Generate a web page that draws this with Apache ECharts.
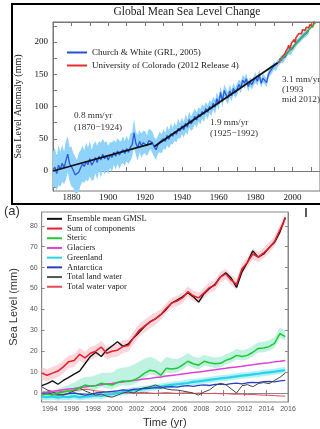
<!DOCTYPE html>
<html><head><meta charset="utf-8">
<script src="https://cdn.jsdelivr.net/npm/echarts@6/dist/echarts.min.js"></script>
<style>html,body{margin:0;padding:0;background:#fff}#c{width:320px;height:429px}</style>
</head><body><div id="c"></div>
<script>
// ---------- Top chart: Global Mean Sea Level Change ----------
const cwStartYear = 1870;
const cwValues = [
  2, 6, -4, 9, 3, 12, 5, 16, 26, 11,
  7, 1, -6, -9, -2, 5, 11, 7, 15, 10,
  19, 9, 14, 21, 13, 23, 17, 26, 19, 24,
  17, 25, 21, 29, 23, 31, 25, 28, 33, 27,
  35, 29, 37, 41, 59, 43, 36, 46, 39, 44,
  45, 39, 47, 49, 44, 37, 33, 41, 45, 42,
  50, 46, 55, 49, 58, 54, 61, 57, 66, 62,
  70, 64, 74, 68, 80, 73, 78, 85, 79, 88,
  84, 92, 88, 97, 91, 100, 96, 105, 99, 112,
  104, 122, 108, 125, 118, 113, 124, 117, 128, 121,
  127, 134, 129, 141, 136, 143, 131, 138, 134, 140,
  145, 139, 150, 136, 144, 141, 137, 150, 155, 158,
  163, 161, 167, 170, 174, 172, 177, 182, 186, 184,
  190, 193, 198, 201, 204, 207, 210, 212, 215, 218
];
const cwErr = [
  28, 30, 26, 31, 27, 29, 25, 30, 28, 26,
  31, 27, 29, 26, 30, 27, 28, 25, 29, 26,
  27, 24, 28, 25, 26, 23, 27, 24, 25, 22,
  22, 20, 23, 19, 21, 20, 22, 18, 21, 19,
  20, 18, 21, 19, 22, 18, 20, 17, 19, 18,
  17, 16, 18, 15, 17, 15, 16, 14, 16, 15,
  15, 13, 15, 14, 16, 13, 14, 13, 15, 12,
  13, 12, 14, 12, 13, 11, 13, 12, 12, 11,
  12, 11, 12, 10, 11, 10, 11, 10, 11, 10,
  10, 9, 10, 9, 10, 9, 10, 9, 9, 8,
  9, 8, 9, 8, 9, 8, 8, 7, 8, 7,
  8, 7, 8, 7, 7, 6, 7, 6, 7, 6,
  6, 6, 6, 5, 6, 5, 5, 5, 5, 5,
  5, 5, 5, 5, 5, 5, 5, 5, 5, 5
];
const ucYears = [1993.0,1993.5,1994.0,1994.5,1995.0,1995.5,1996.0,1996.5,1997.0,1997.5,
  1998.0,1998.5,1999.0,1999.5,2000.0,2000.5,2001.0,2001.5,2002.0,2002.5,
  2003.0,2003.5,2004.0,2004.5,2005.0,2005.5,2006.0,2006.5,2007.0,2007.5,
  2008.0,2008.5,2009.0,2009.5,2010.0,2010.5,2011.0,2011.5,2012.0,2012.5];
const ucValues = [168, 175, 171, 177, 179, 174, 182, 186, 183, 191,
  195, 189, 193, 198, 196, 201, 204, 199, 207, 210,
  206, 213, 211, 216, 213, 219, 216, 221, 218, 223,
  220, 225, 222, 227, 230, 225, 223, 229, 232, 230];
const trend1 = [[1870, 0], [1924, 43]];
const trend2 = [[1925, 38], [1992, 168]];
const trend3 = [[1993, 170], [2012.5, 230]];
const topXLabels = [1880, 1900, 1920, 1940, 1960, 1980, 2000];
const topXTicks = [1870,1880,1890,1900,1910,1920,1930,1940,1950,1960,1970,1980,1990,2000,2010];
const topYLabels = [0, 50, 100, 150, 200];
const topYTicks = [-25, 0, 25, 50, 75, 100, 125, 150, 175, 200, 225];

// ---------- Bottom chart (a) ----------
const bYears = [1993.25,1993.75,1994.25,1994.75,1995.25,1995.75,1996.25,1996.75,1997.25,1997.75,
  1998.25,1998.75,1999.25,1999.75,2000.25,2000.75,2001.25,2001.75,2002.25,2002.75,
  2003.25,2003.75,2004.25,2004.75,2005.25,2005.75,2006.25,2006.75,2007.25,2007.75,
  2008.25,2008.75,2009.25,2009.75,2010.25,2010.75,2011.25,2011.75,2012.25,2012.75,
  2013.25,2013.75,2014.25,2014.75,2015.25,2015.75];
const gmsl = [3.5,4.5,5.8,4.2,6,7.5,9,10.5,14,17.5,
  19.5,17.5,20.5,22.5,24.5,22.3,23.5,26.5,29,31.8,
  34,35.5,37.5,40,43,44.5,46,48,46,43.5,
  47.5,50,52,55.5,57.5,55,50.5,58,62.5,68,
  65,66.5,69.5,72,77,84];
const sumComp = [9.5,8.5,9.5,10.5,12.5,15,15.6,18.5,16.8,19,
  20,22,19,20,20.5,22.2,22.7,26.5,30,32,
  34,35.5,37.5,40.5,43,44,45.5,48.5,46.5,45.5,
  48,50.5,51.5,55.5,57,54,52,59.5,62.5,66.5,
  65,67,69.5,72.5,78,83.5];
const sumErr = [3,3,3,3,3,3,3,3,3,3,3,3,3,3,3,3,3,3,3,3,3,3,2.5,2.5,2.5,2.5,2.5,2.5,2.5,2.5,2.5,2.5,2.5,2.5,2.5,2.5,2.5,2.5,2.5,2.5,2.5,2.5,2.5,2.5,2.5,2.5];
const steric = [-1,-0.5,-1,0,0.5,1,1.5,2.5,3.8,3.3,
  3.5,4.7,4.2,3.8,5,5.7,5.5,6.2,7.5,9.5,
  10.9,10.4,8.5,11.8,11.5,11.8,13.3,15.2,14,13.3,
  15.2,14.5,14,14.2,15.6,16.5,18,17.5,18,19.5,
  21.3,21.5,22.2,23.7,28.4,27];
const stericLow = [2,2,2,2,2,2,2,2,2,2,2,2,2,2,2,2,2,2,2,2,2,2,2,2,2,2,2,2,2,2,2,2,2,2,2,2,2,2,2,2,2,2,2,2,2,2];
const stericHigh = [2,2,2,2,2.5,3,3.5,4,4,4.5,5,5,5.5,6,6.5,6.5,7,7.5,7.5,7,6.5,6,6,5.5,5,4.5,4,4,3.5,3.5,3,3,3,3,3,3,3,3,3,3,3,3,3,3,3,3];
const glaciers = [0.2,0.5,0.9,1.2,1.6,1.9,2.2,2.6,2.9,3.3,
  3.6,4.0,4.3,4.6,5.0,5.3,5.7,6.0,6.3,6.7,
  7.0,7.4,7.7,8.1,8.4,8.7,9.1,9.4,9.8,10.1,
  10.4,10.8,11.1,11.5,11.8,12.2,12.5,12.8,13.2,13.5,
  13.9,14.2,14.5,14.9,15.2,15.6];
const greenland = [-1.8,-2,-1.6,-2.2,-1.8,-2,-1.5,-2.1,-1.7,-1.5,
  -1.2,-1.4,-0.8,-0.5,0,0.4,0.8,1.3,1.6,2,
  2.4,2.8,3.1,3.5,3.9,4.2,4.5,4.8,5.3,5.6,
  5.9,6.3,6.6,7,7.2,7.6,8,8.3,8.6,8.9,
  9.2,9.6,9.9,10.2,10.6,10.9];
const greenlandErr = [1.5,1.5,1.5,1.5,1.5,1.5,1.5,1.5,1.5,1.5,1.5,1.5,1.5,1.5,1.5,1.5,1.5,1.5,1.5,1.5,1.5,1.5,1.5,1.5,1.5,1.5,1.5,1.5,1.5,1.5,1.5,1.5,1.5,1.5,1.5,1.5,1.5,1.5,1.5,1.5,1.5,1.5,1.5,1.5,1.5,1.5];
const antarctica = [-0.5,0,-0.5,-1,-0.8,-0.3,0,-0.5,-1,-0.6,
  0,0.3,0.5,0.8,1,1.5,1.2,1.8,2,2.3,
  2.2,2.6,2.4,2.9,3.1,2.8,3.3,3.5,3.2,3.7,
  3.9,3.6,4.1,4.3,4,4.5,4.7,4.4,4.9,5.1,
  5,5.4,5.6,5.3,5.8,6];
const landWater = [3,1.5,0.5,-0.5,-1,0,1,2.5,1,0,
  -1,-0.5,-1.5,-2,-1,0,0.5,0,1.5,2.5,
  3,3.8,3,2,1.5,1.4,1,0.5,0,-1,
  0.5,1.5,3.5,4.7,4,2,0,3.5,4,3,
  4.5,5,4.5,6,7.5,9.5];
const waterVapor = [0,0.2,0.3,0.5,0.8,1,1.2,1.5,1.8,1.5,
  1,0.8,0.5,0.5,0.3,0.2,0,0,0.2,0.3,
  0,-0.2,0,0.2,0,-0.2,0,0.1,-0.3,0,
  -0.2,-0.3,-0.1,-0.4,-0.3,-0.5,-0.6,-0.5,-0.8,-0.7,
  -0.9,-1,-1.1,-1.2,-1.4,-1.5];
const bXLabels = [1994,1996,1998,2000,2002,2004,2006,2008,2010,2012,2014,2016];
const bYLabels = [0,10,20,30,40,50,60,70,80];

// ---------- helpers ----------
const cwYears = cwValues.map((v, i) => cwStartYear + i);
const cwData = cwValues.map((v, i) => [cwYears[i], v]);
const cwLowV = cwValues.map((v, i) => v - cwErr[i]);
const cwHighV = cwValues.map((v, i) => v + cwErr[i]);
const ucData = ucValues.map((v, i) => [ucYears[i], v]);
const pair = arr => arr.map((v, i) => [bYears[i], v]);
const minus = (arr, e) => arr.map((v, i) => v - e[i]);
const plus = (arr, e) => arr.map((v, i) => v + e[i]);

function bandSeries(xs, lo, hi, color, xi, yi) {
  return {
    type: 'custom', xAxisIndex: xi, yAxisIndex: yi, silent: true, z: 1,
    data: [[xs[0], hi[0]]],
    renderItem: (params, api) => {
      const pts = [];
      for (let i = 0; i < xs.length; i++) pts.push(api.coord([xs[i], hi[i]]));
      for (let i = xs.length - 1; i >= 0; i--) pts.push(api.coord([xs[i], lo[i]]));
      return {type: 'polygon', shape: {points: pts}, style: {fill: color}};
    }
  };
}

const serif = 'Liberation Serif';
const sans = 'Liberation Sans';
const plain = v => String(v);

const chart = echarts.init(document.getElementById('c'), null, {renderer: 'canvas'});
const noSym = {symbol: 'none', showSymbol: false};

const option = {
  animation: false,
  backgroundColor: '#fff',
  grid: [
    {left: 53, top: 22, width: 271, height: 169, show: true, borderColor: '#777', borderWidth: 1},
    {left: 41, top: 212, width: 247, height: 192, show: true, borderColor: '#888', borderWidth: 1}
  ],
  xAxis: [
    {gridIndex: 0, type: 'value', min: 1870, max: 2015, splitLine: {show: false},
      axisLine: {lineStyle: {color: '#777'}},
      axisTick: {inside: true, length: 4, customValues: topXTicks, lineStyle: {color: '#777'}},
      axisLabel: {customValues: topXLabels, formatter: plain, fontFamily: serif, fontSize: 9, color: '#111', margin: 2}},
    {gridIndex: 0, type: 'value', min: 1870, max: 2015, position: 'top', splitLine: {show: false},
      axisLine: {lineStyle: {color: '#777'}},
      axisTick: {inside: true, length: 4, customValues: topXTicks, lineStyle: {color: '#777'}},
      axisLabel: {show: false}},
    {gridIndex: 1, type: 'value', min: 1993.25, max: 2016, splitLine: {show: false},
      name: 'Time (yr)', nameLocation: 'middle', nameGap: 15,
      nameTextStyle: {fontFamily: sans, fontSize: 11, color: '#333'},
      axisLine: {lineStyle: {color: '#888'}},
      axisTick: {inside: true, length: 3, customValues: bXLabels, lineStyle: {color: '#888'}},
      axisLabel: {customValues: bXLabels, formatter: plain, fontFamily: sans, fontSize: 7, color: '#555', margin: 4}},
    {gridIndex: 1, type: 'value', min: 1993.25, max: 2016, position: 'top', splitLine: {show: false},
      axisLine: {lineStyle: {color: '#888'}},
      axisTick: {inside: true, length: 3, customValues: bXLabels, lineStyle: {color: '#888'}},
      axisLabel: {show: false}}
  ],
  yAxis: [
    {gridIndex: 0, type: 'value', min: -31, max: 231, splitLine: {show: false},
      name: 'Sea Level Anomaly (mm)', nameLocation: 'middle', nameGap: 23,
      nameTextStyle: {fontFamily: serif, fontSize: 10, color: '#222'},
      axisLine: {show: true, lineStyle: {color: '#777'}},
      axisTick: {show: true, inside: true, length: 4, customValues: topYTicks, lineStyle: {color: '#777'}},
      axisLabel: {customValues: topYLabels, formatter: plain, fontFamily: serif, fontSize: 9, color: '#111', margin: 5}},
    {gridIndex: 1, type: 'value', min: -4.3, max: 86.6, splitLine: {show: false},
      name: 'Sea Level (mm)', nameLocation: 'middle', nameGap: 22,
      nameTextStyle: {fontFamily: sans, fontSize: 11, color: '#333'},
      axisLine: {show: true, lineStyle: {color: '#888'}},
      axisTick: {show: true, inside: true, length: 3, customValues: bYLabels, lineStyle: {color: '#888'}},
      axisLabel: {customValues: bYLabels, formatter: plain, fontFamily: sans, fontSize: 7, color: '#555', margin: 4}},
    {gridIndex: 1, type: 'value', min: -4.3, max: 86.6, position: 'right', splitLine: {show: false},
      axisLine: {show: true, lineStyle: {color: '#888'}},
      axisTick: {show: true, inside: true, length: 3, customValues: bYLabels, lineStyle: {color: '#888'}},
      axisLabel: {show: false}}
  ],
  legend: [
    {left: 67, top: 46, padding: 0, orient: 'vertical', itemWidth: 20, itemHeight: 2, itemGap: 0, icon: 'rect',
      textStyle: {fontFamily: serif, fontSize: 9, color: '#222', lineHeight: 13},
      data: ['Church & White (GRL, 2005)', 'University of Colorado (2012 Release 4)']},
    {left: 47, top: 214, padding: 0, orient: 'vertical', itemWidth: 15, itemHeight: 2, itemGap: 0, icon: 'rect',
      textStyle: {fontFamily: serif, fontSize: 8.5, color: '#222', lineHeight: 9.7},
      data: ['Ensemble mean GMSL', 'Sum of components', 'Steric', 'Glaciers', 'Greenland', 'Antarctica', 'Total land water', 'Total water vapor']}
  ],
  series: [
    // top chart
    bandSeries(cwYears, cwLowV, cwHighV, '#8fd2fa', 0, 0),
    {type: 'line', name: 'Church & White (GRL, 2005)', xAxisIndex: 0, yAxisIndex: 0, data: cwData, ...noSym, color: '#2350d8', lineStyle: {width: 1.3, color: '#2a5ae0'}},
    {type: 'line', name: 'University of Colorado (2012 Release 4)', xAxisIndex: 0, yAxisIndex: 0, data: ucData, ...noSym, color: '#e23030', lineStyle: {width: 1.6, color: '#e23030'}},
    {type: 'line', name: 't1', xAxisIndex: 0, yAxisIndex: 0, data: trend1, ...noSym, lineStyle: {width: 1.8, color: '#111'}},
    {type: 'line', name: 't2', xAxisIndex: 0, yAxisIndex: 0, data: trend2, ...noSym, lineStyle: {width: 1.8, color: '#111'}},
    {type: 'line', name: 't3', xAxisIndex: 0, yAxisIndex: 0, data: trend3, ...noSym, lineStyle: {width: 1.5, color: '#3cb043'}},
    // bottom chart bands
    bandSeries(bYears, minus(steric, stericLow), plus(steric, stericHigh), 'rgba(170,238,215,0.75)', 2, 1),
    bandSeries(bYears, minus(greenland, greenlandErr), plus(greenland, greenlandErr), 'rgba(160,236,246,0.8)', 2, 1),
    bandSeries(bYears, minus(sumComp, sumErr), plus(sumComp, sumErr), 'rgba(248,196,206,0.7)', 2, 1),
    // bottom chart lines
    {type: 'line', name: 'Total water vapor', xAxisIndex: 2, yAxisIndex: 1, data: pair(waterVapor), ...noSym, color: '#e8485a', lineStyle: {width: 1, color: '#e8485a'}},
    {type: 'line', name: 'Greenland', xAxisIndex: 2, yAxisIndex: 1, data: pair(greenland), ...noSym, color: '#26d4e6', lineStyle: {width: 2.2, color: '#26d4e6'}},
    {type: 'line', name: 'Antarctica', xAxisIndex: 2, yAxisIndex: 1, data: pair(antarctica), ...noSym, color: '#2b3fc4', lineStyle: {width: 1.3, color: '#2b3fc4'}},
    {type: 'line', name: 'Total land water', xAxisIndex: 2, yAxisIndex: 1, data: pair(landWater), ...noSym, color: '#555', lineStyle: {width: 1, color: '#444'}},
    {type: 'line', name: 'Glaciers', xAxisIndex: 2, yAxisIndex: 1, data: pair(glaciers), ...noSym, color: '#e040d8', lineStyle: {width: 1.5, color: '#e040d8'}},
    {type: 'line', name: 'Steric', xAxisIndex: 2, yAxisIndex: 1, data: pair(steric), ...noSym, color: '#22c832', lineStyle: {width: 1.5, color: '#22c832'}},
    {type: 'line', name: 'Ensemble mean GMSL', xAxisIndex: 2, yAxisIndex: 1, data: pair(gmsl), ...noSym, color: '#111', lineStyle: {width: 1.4, color: '#111'}},
    {type: 'line', name: 'Sum of components', xAxisIndex: 2, yAxisIndex: 1, data: pair(sumComp), ...noSym, color: '#e81e28', lineStyle: {width: 1.5, color: '#e81e28'}}
  ],
  graphic: [
    {type: 'rect', shape: {x: 12, y: 4, width: 330, height: 200}, style: {fill: 'none', stroke: '#000', lineWidth: 2}, z: 100},
    {type: 'text', x: 187, y: 6, style: {text: 'Global Mean Sea Level Change', font: '11.5px "Liberation Serif"', fill: '#222', textAlign: 'center'}},
    {type: 'text', x: 74, y: 110, style: {text: '0.8 mm/yr\n(1870\u22121924)', font: '9.2px "Liberation Serif"', fill: '#333', lineHeight: 12}},
    {type: 'text', x: 210, y: 117, style: {text: '1.9 mm/yr\n(1925\u22121992)', font: '9.2px "Liberation Serif"', fill: '#333', lineHeight: 11}},
    {type: 'text', x: 282, y: 75, style: {text: '3.1 mm/yr\n(1993\nmid 2012)', font: '9.2px "Liberation Serif"', fill: '#333', lineHeight: 10}},
    {type: 'text', x: 4, y: 205, style: {text: '(a)', font: '13px "Liberation Sans"', fill: '#333'}},
    {type: 'line', shape: {x1: 306, y1: 208, x2: 306, y2: 217}, style: {stroke: '#222', lineWidth: 1.5}}
  ]
};
chart.setOption(option);
</script>
</body></html>
